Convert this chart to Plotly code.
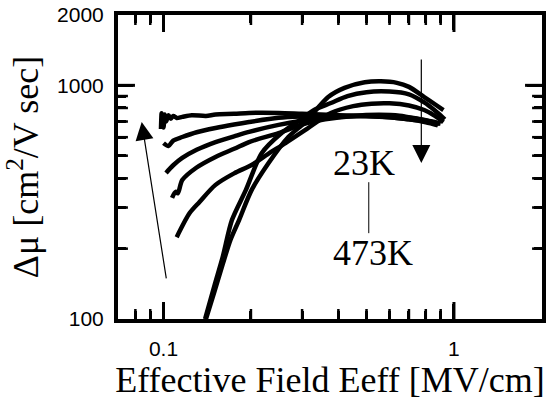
import plotly.graph_objects as go
import math

# ---- data ----
x_23k = [0.140, 0.150, 0.160, 0.170, 0.182, 0.201, 0.230, 0.269, 0.308, 0.369, 0.42, 0.493, 0.56, 0.636, 0.70, 0.79, 0.86, 0.92]
y_23k = [100, 132, 172, 218, 265, 356, 465, 601, 697, 891, 975, 1030, 1040, 1025, 985, 891, 830, 784]

x_c2 = [0.139, 0.150, 0.160, 0.172, 0.192, 0.218, 0.255, 0.29, 0.33, 0.377, 0.43, 0.5, 0.6, 0.7, 0.79, 0.86, 0.93]
y_c2 = [100, 140, 185, 265, 356, 513, 625, 700, 785, 840, 900, 935, 940, 915, 845, 780, 715]

x_c3 = [0.111, 0.123, 0.133, 0.151, 0.175, 0.201, 0.23, 0.263, 0.308, 0.377, 0.45, 0.52, 0.6, 0.7, 0.79, 0.86, 0.92]
y_c3 = [224, 284, 317, 375, 420, 456, 510, 566, 644, 762, 815, 835, 838, 820, 784, 740, 695]

x_c4 = [0.107, 0.110, 0.112, 0.116, 0.13, 0.151, 0.175, 0.197, 0.249, 0.3, 0.36, 0.45, 0.55, 0.65, 0.75, 0.84, 0.9]
y_c4 = [330, 350, 345, 393, 445, 494, 535, 572, 625, 680, 715, 740, 748, 742, 720, 700, 685]

x_c5 = [0.102, 0.108, 0.116, 0.13, 0.151, 0.175, 0.197, 0.249, 0.3, 0.36, 0.45, 0.55, 0.65, 0.75, 0.84, 0.89]
y_c5 = [422, 455, 489, 530, 572, 605, 632, 677, 705, 725, 738, 742, 735, 718, 698, 685]

x_c6 = [0.1, 0.104, 0.108, 0.116, 0.13, 0.151, 0.175, 0.197, 0.249, 0.3, 0.4, 0.5, 0.6, 0.7, 0.8, 0.88]
y_c6 = [566, 550, 580, 601, 630, 657, 680, 697, 726, 735, 740, 738, 730, 715, 700, 680]

x_473k = [0.098, 0.0985, 0.099, 0.0995, 0.1, 0.101, 0.102, 0.104, 0.106, 0.108, 0.111, 0.116, 0.125, 0.14, 0.151, 0.175, 0.197, 0.249, 0.3, 0.4, 0.5, 0.6, 0.7, 0.8, 0.88]
y_473k = [650, 760, 690, 745, 660, 750, 700, 745, 720, 740, 725, 733, 745, 740, 750, 755, 762, 762, 755, 745, 740, 730, 715, 695, 675]

x_ticks = [0.1, 1]
x_ticktext = ["0.1", "1"]
x_minor = [0.08, 0.09, 0.2, 0.3, 0.4, 0.5, 0.6, 0.7, 0.8, 0.9]
y_ticks = [100, 1000, 2000]
y_ticktext = ["100", "1000", "2000"]
y_minor = [200, 300, 400, 500, 600, 700, 800, 900]

x_range = [0.0697, 2.01]
y_range = [100, 2000]

series = [(x_23k, y_23k), (x_c2, y_c2), (x_c3, y_c3), (x_c4, y_c4),
          (x_c5, y_c5), (x_c6, y_c6), (x_473k, y_473k)]

L = math.log10
serif = "Liberation Serif, Times New Roman, serif"
sans = "Liberation Sans, Arial, sans-serif"

xlo, xhi = L(x_range[0]), L(x_range[1])
ylo, yhi = L(y_range[0]), L(y_range[1])


def along_x(frac):
    return 10 ** (xlo + frac * (xhi - xlo))


def along_y(frac):
    return 10 ** (ylo + frac * (yhi - ylo))


fig = go.Figure()
for xs, ys in series:
    fig.add_trace(go.Scatter(x=xs, y=ys, mode="lines",
                             line=dict(color="black", width=4.5, shape="spline", smoothing=0.8),
                             showlegend=False, hoverinfo="skip"))

# thin separator between temperature labels
fig.add_trace(go.Scatter(x=[0.509, 0.509], y=[385, 233], mode="lines",
                         line=dict(color="black", width=1), showlegend=False, hoverinfo="skip"))

# inside tick marks on all four sides (drawn as line segments on the log axes)
for xvals, yvals, xf, yf, w in [(x_ticks, y_ticks, 0.056, 0.040, 3),
                                (x_minor, y_minor, 0.033, 0.0234, 2.5)]:
    tx, ty = [], []
    for v in xvals:
        if x_range[0] < v < x_range[1]:
            tx += [v, v, None, v, v, None]
            ty += [along_y(0), along_y(xf), None, along_y(1), along_y(1 - xf), None]
    for v in yvals:
        if y_range[0] < v < y_range[1]:
            tx += [along_x(0), along_x(yf), None, along_x(1), along_x(1 - yf), None]
            ty += [v, v, None, v, v, None]
    fig.add_trace(go.Scatter(x=tx, y=ty, mode="lines", connectgaps=False,
                             line=dict(color="black", width=w),
                             showlegend=False, hoverinfo="skip", cliponaxis=False))

annotations = [
    # left arrow (up)
    dict(x=L(0.0841), y=L(697), ax=L(0.1024), ay=L(147), xref="x", yref="y",
         axref="x", ayref="y", showarrow=True, arrowhead=2, arrowsize=3,
         arrowwidth=1.2, arrowcolor="black", text=""),
    # right arrow (down)
    dict(x=L(0.772), y=L(465), ax=L(0.772), ay=L(1309), xref="x", yref="y",
         axref="x", ayref="y", showarrow=True, arrowhead=2, arrowsize=3,
         arrowwidth=1.2, arrowcolor="black", text=""),
    dict(x=L(0.489), y=L(465), xref="x", yref="y", text="23K", showarrow=False,
         font=dict(family=serif, size=36, color="black")),
    dict(x=L(0.525), y=L(192), xref="x", yref="y", text="473K", showarrow=False,
         font=dict(family=serif, size=36, color="black")),
]

axis_common = dict(
    type="log", showline=True, linecolor="black", linewidth=4, mirror="ticks",
    ticks="inside", ticklen=15, tickwidth=3, tickcolor="black",
    showgrid=False, zeroline=False,
    tickfont=dict(family=sans, size=21, color="black"),
)
minor_common = dict(dtick="D1", ticks="inside", ticklen=8, tickwidth=2.5,
                    tickcolor="black", showgrid=False)

fig.update_xaxes(**axis_common, range=[xlo, xhi],
                 tickmode="array", tickvals=x_ticks, ticktext=x_ticktext,
                 minor=minor_common, ticklabelstandoff=8,
                 title=dict(text="Effective Field Eeff [MV/cm]", standoff=8,
                            font=dict(family=serif, size=36, color="black")))
fig.update_yaxes(**axis_common, range=[ylo, yhi],
                 tickmode="array", tickvals=y_ticks, ticktext=y_ticktext,
                 minor=minor_common, ticklabelstandoff=6,
                 title=dict(text="Δμ [cm<sup>2</sup>/V sec]", standoff=8,
                            font=dict(family=serif, size=36, color="black")))

fig.update_layout(width=549, height=406, margin=dict(l=118, r=3, t=15, b=87),
                  paper_bgcolor="white", plot_bgcolor="white",
                  annotations=annotations, showlegend=False)

fig.write_html("out.html", config={"displayModeBar": False},
               post_script="document.body.style.margin='0px';")
